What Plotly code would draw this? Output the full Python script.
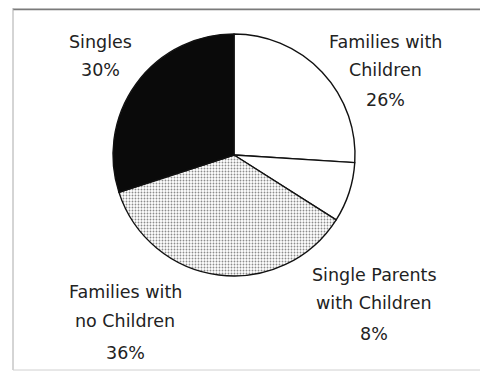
import plotly.graph_objects as go

labels = ["Families with Children", "Single Parents with Children", "Families with no Children", "Singles"]
values = [26, 8, 36, 30]
label_lines = [["Families with", "Children"], ["Single Parents", "with Children"], ["Families with", "no Children"], ["Singles"]]
colors = ["#ffffff", "#ffffff", "#e2e2e2", "#0a0a0a"]
patterns = ["", "", ".", ""]

# the page body has an 8px margin, so the figure is drawn 8px in from the window corner
OFF = 8
W, H = 488 - OFF, 373 - OFF
cx, cy, r = 234 - OFF, 155 - OFF, 121

fig = go.Figure(go.Pie(
    labels=labels, values=values, sort=False, direction="clockwise", rotation=0,
    textinfo="none", hoverinfo="label+percent", showlegend=False,
    marker=dict(colors=colors, line=dict(color="#111111", width=1.4),
                pattern=dict(shape=patterns, fgcolor="#8c8c8c", size=3, solidity=0.3)),
    domain=dict(x=[(cx - r) / W, (cx + r) / W], y=[(H - cy - r) / H, (H - cy + r) / H]),
))

# pixel centres (in the reference window) of each text line, per slice
line_x = [385, 374, 125, 100]
line_y = [[41, 69, 99], [274, 302, 333], [291, 320, 352], [41, 69]]
font = dict(family="'DejaVu Sans', sans-serif", size=17.5, color="#222222")
annotations = []
for lines, v, x, ys in zip(label_lines, values, line_x, line_y):
    for t, y in zip(lines + [f"{v}%"], ys):
        annotations.append(dict(x=(x - OFF) / W, y=1 - (y + 1 - OFF) / H, xref="paper", yref="paper",
                                text=t, showarrow=False, xanchor="center", yanchor="middle",
                                font=font))

shapes = [
    dict(type="rect", xref="paper", yref="paper", x0=(13 - OFF) / W, x1=1, y0=1 - 2.2 / H, y1=1 - 0.5 / H,
         fillcolor="#7a7a7a", line=dict(width=0), layer="above"),
    dict(type="line", xref="paper", yref="paper", x0=(13 - OFF) / W, x1=(13 - OFF) / W, y0=1, y1=1 - (370 - OFF) / H,
         line=dict(color="#aaaaaa", width=1)),
    dict(type="line", xref="paper", yref="paper", x0=(13 - OFF) / W, x1=1, y0=1 - (370 - OFF) / H, y1=1 - (370 - OFF) / H,
         line=dict(color="#d0d0d0", width=1)),
]

fig.update_layout(width=W, height=H, margin=dict(l=0, r=0, t=0, b=0),
                  paper_bgcolor="white", plot_bgcolor="white",
                  annotations=annotations, shapes=shapes)
fig.write_html("out.html")
